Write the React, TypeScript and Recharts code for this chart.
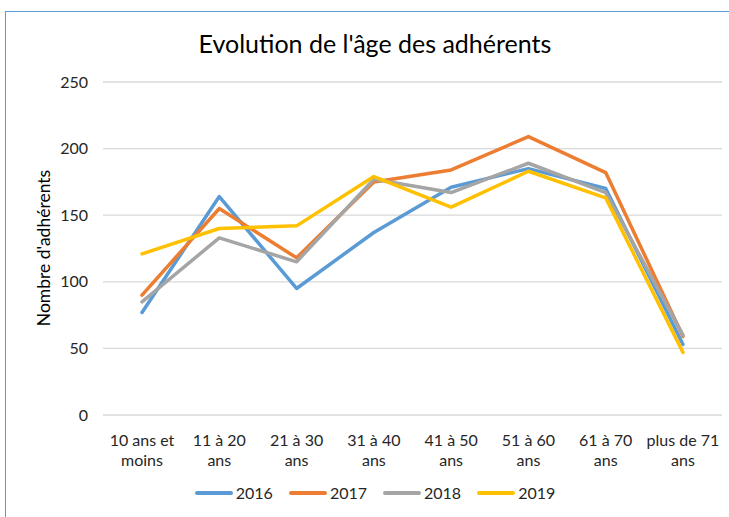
import React from "react";
import { LineChart, Line, XAxis, YAxis, CartesianGrid, Legend } from "recharts";

const categories: string[] = [
  "10 ans et moins",
  "11 à 20 ans",
  "21 à 30 ans",
  "31 à 40 ans",
  "41 à 50 ans",
  "51 à 60 ans",
  "61 à 70 ans",
  "plus de 71 ans",
];

// two-line tick labels as drawn under the axis
const tickLines: string[][] = [
  ["10 ans et", "moins"],
  ["11 à 20", "ans"],
  ["21 à 30", "ans"],
  ["31 à 40", "ans"],
  ["41 à 50", "ans"],
  ["51 à 60", "ans"],
  ["61 à 70", "ans"],
  ["plus de 71", "ans"],
];

const values2016: number[] = [77, 164, 95, 137, 171, 185, 170, 53];
const values2017: number[] = [90, 155, 118, 175, 184, 209, 182, 59];
const values2018: number[] = [85, 133, 115, 177, 167, 189, 167, 60];
const values2019: number[] = [121, 140, 142, 179, 156, 183, 163, 47];

const yTicks: number[] = [0, 50, 100, 150, 200, 250];

const series = [
  { key: "2016", color: "#5B9BD5" },
  { key: "2017", color: "#ED7D31" },
  { key: "2018", color: "#A5A5A5" },
  { key: "2019", color: "#FFC000" },
];

const data = categories.map((name, i) => ({
  name,
  "2016": values2016[i],
  "2017": values2017[i],
  "2018": values2018[i],
  "2019": values2019[i],
}));

const FONT = "Lato, 'Open Sans', sans-serif";
const TEXT = "#262626";

const XTick = (props: any) => {
  const { x, y, payload } = props;
  const lines = tickLines[payload.index] || [payload.value];
  return (
    <text x={x} y={y} textAnchor="middle" fill={TEXT} fontSize={16} fontFamily={FONT}>
      {lines.map((l, i) => (
        <tspan key={i} x={x} dy={i === 0 ? 29 : 20}>
          {l}
        </tspan>
      ))}
    </text>
  );
};

const LegendContent = () => (
  <div style={{ display: "flex", justifyContent: "center", fontFamily: FONT, fontSize: 16, color: TEXT }}>
    {series.map((s) => (
      <div key={s.key} style={{ display: "flex", alignItems: "center", margin: "0 8px" }}>
        <div style={{ width: 38, height: 4, background: s.color, borderRadius: 2, marginRight: 3 }} />
        <span>{s.key}</span>
      </div>
    ))}
  </div>
);

export default function App() {
  return (
    <div style={{ position: "absolute", left: 0, top: 0, width: 729, height: 517, overflow: "hidden", background: "#fff" }}>
      <div
        style={{
          position: "absolute",
          left: 5,
          top: 11,
          width: 780,
          height: 560,
          border: "1.5px solid #5B9BD5",
        }}
      />
      <div
        style={{
          position: "absolute",
          left: 0,
          top: 28,
          width: 750,
          textAlign: "center",
          fontFamily: FONT,
          fontSize: 25,
          lineHeight: "30px",
          color: "#000",
        }}
      >
        Evolution de l'âge des adhérents
      </div>
      <div
        style={{
          position: "absolute",
          left: 44 - 120,
          top: 248 - 12,
          width: 240,
          height: 24,
          lineHeight: "24px",
          textAlign: "center",
          transform: "rotate(-90deg)",
          fontFamily: FONT,
          fontSize: 17.5,
          color: "#000",
        }}
      >
        Nombre d'adhérents
      </div>
      <div style={{ position: "absolute", left: 0, top: 0 }}>
        <LineChart width={729} height={517} data={data} margin={{ top: 82, right: 7, left: 0, bottom: 27 }}>
          <CartesianGrid vertical={false} stroke="#D9D9D9" strokeWidth={1.3} />
          <XAxis
            dataKey="name"
            axisLine={false}
            tickLine={false}
            tickSize={0}
            height={55}
            interval={0}
            padding={{ left: 39, right: 39 }}
            tick={<XTick />}
          />
          <YAxis
            width={103}
            domain={[0, 250]}
            ticks={yTicks}
            axisLine={false}
            tickLine={false}
            tickSize={0}
            tickMargin={15}
            tick={{ fill: TEXT, fontSize: 16, fontFamily: FONT }}
          />
          {series.map((s) => (
            <Line
              key={s.key}
              type="linear"
              dataKey={s.key}
              stroke={s.color}
              strokeWidth={3.5}
              dot={false}
              strokeLinecap="round"
              strokeLinejoin="round"
              isAnimationActive={false}
            />
          ))}
          <Legend
            verticalAlign="bottom"
            height={20}
            content={<LegendContent />}
            wrapperStyle={{ top: 483, bottom: "auto", left: 0, width: 750 }}
          />
        </LineChart>
      </div>
    </div>
  );
}
